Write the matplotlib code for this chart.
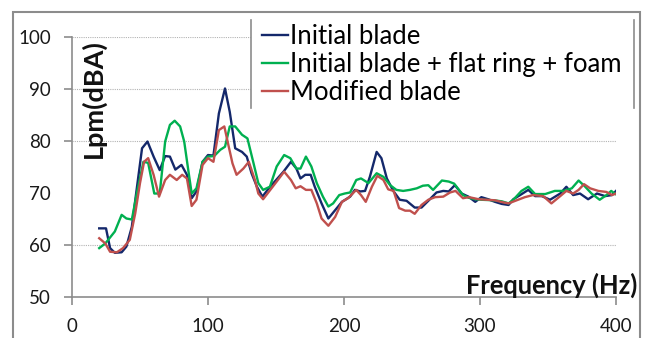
import matplotlib
matplotlib.use("Agg")
import matplotlib.pyplot as plt
from matplotlib.lines import Line2D
from matplotlib.patches import Rectangle

plt.rcParams["font.family"] = ["Lato", "DejaVu Sans"]

# values, frequency in Hz, level in dBA
freq_initial = [20, 25, 28, 31.5, 36.5, 40, 44, 47.5, 51.5, 55.5, 60, 64.5, 68.5, 72, 76,
                80.5, 84.5, 88, 91.5, 96, 100, 104, 108, 112.5, 116, 120, 125, 128.5, 132,
                136, 140, 145, 155.5, 161, 165, 168, 171.5, 175.5, 178.5, 183.5, 188.5,
                193.5, 198.5, 204.5, 208, 212, 215.5, 219, 224, 227.5, 231.5, 236.5, 241,
                246, 252, 257, 262, 268, 273, 277, 281.5, 286.5, 291.5, 296.5, 301, 306,
                311, 316, 321, 324.5, 329.5, 335.5, 340.5, 345.5, 351.5, 359, 363.5, 368.5,
                373.5, 379.5, 386, 392, 397, 400]
lpm_initial = [63.2, 63.2, 59.4, 58.5, 58.6, 59.7, 63.5, 70.6, 78.6, 79.9, 77.0, 74.4, 77.1,
               77.0, 74.5, 75.4, 73.5, 69.0, 70.3, 76.0, 77.3, 77.2, 85.3, 90.1, 85.6, 78.6,
               77.9, 77.0, 73.8, 71.2, 69.3, 71.0, 74.1, 76.0, 74.7, 72.8, 73.5, 73.5, 71.2,
               68.0, 65.1, 66.7, 68.3, 69.3, 70.6, 70.3, 70.4, 73.1, 77.9, 76.7, 72.8, 70.3,
               68.7, 68.5, 67.2, 67.2, 68.5, 70.1, 70.4, 70.3, 71.5, 69.9, 69.3, 68.3, 69.2,
               68.8, 68.3, 67.9, 67.7, 68.8, 69.6, 70.6, 69.4, 69.4, 68.7, 69.9, 71.2, 69.6,
               69.9, 68.8, 69.9, 69.4, 69.6, 70.4]

freq_ring = [20, 24.5, 31.5, 36.5, 40, 44, 47.5, 52.5, 56, 60.5, 64.5, 68.5, 72, 75.5, 79.5,
             82.5, 85.5, 88, 91.5, 96, 100, 104.5, 109, 112.5, 116, 120, 125, 129, 133.5,
             137, 140.5, 145.5, 150.5, 156, 160.5, 165, 168, 172, 176, 180, 184.5, 188.5,
             192, 196.5, 200.5, 204.5, 209, 212.5, 218, 224, 229, 234, 238.5, 243.5, 248.5,
             253.5, 258, 262, 265.5, 272, 277, 281, 287.5, 291.5, 296.5, 301, 310, 316, 321,
             324.5, 330.5, 335.5, 340.5, 348, 355, 361.5, 367.5, 372.5, 377, 382, 388, 393,
             396.5, 399.5]
lpm_ring = [59.4, 60.3, 62.6, 65.8, 65.1, 64.9, 69.7, 76.0, 75.8, 69.9, 69.9, 79.9, 83.1,
            83.9, 82.8, 79.9, 74.4, 69.9, 70.9, 76.0, 77.0, 77.1, 78.3, 78.9, 82.8, 82.8,
            81.2, 80.5, 75.7, 71.9, 70.6, 71.2, 75.1, 77.3, 76.7, 74.7, 74.7, 77.0, 75.1,
            71.9, 69.3, 67.4, 68.0, 69.6, 69.9, 70.1, 72.5, 72.8, 71.9, 73.8, 73.1, 71.5,
            70.6, 70.4, 70.6, 70.9, 71.4, 71.5, 70.6, 72.4, 72.2, 71.8, 69.6, 69.1, 68.8,
            68.7, 68.6, 68.4, 68.0, 68.7, 70.4, 71.2, 69.8, 69.8, 70.4, 70.4, 70.9, 72.4,
            71.3, 69.9, 68.7, 69.6, 70.4, 69.8]

freq_modified = [20, 24.5, 28, 33, 37.5, 42.5, 46.5, 50, 53, 56, 60, 64, 68.5, 72, 77, 81,
                 84.5, 88, 91.5, 96, 100, 104, 108, 112, 115, 118, 121, 126, 130, 134.5, 137,
                 140.5, 145.5, 150.5, 156, 161, 164.5, 168, 172, 176, 180, 183.5, 188.5,
                 193.5, 198.5, 203, 209, 212.5, 216, 220.5, 224.5, 229, 232.5, 236.5, 240.5,
                 245, 248.5, 252, 257, 262, 267, 273, 278, 282, 287.5, 292, 299, 305, 311,
                 317, 321, 327, 333, 339, 346.5, 352.5, 359, 363.5, 368.5, 372.5, 376.5, 381,
                 387, 393, 397, 400]
lpm_modified = [61.3, 60.3, 58.7, 58.6, 59.4, 61.0, 66.1, 71.9, 76.0, 76.7, 73.5, 69.3, 72.5,
                73.5, 72.5, 73.5, 72.8, 67.5, 68.7, 75.4, 76.7, 76.0, 82.1, 82.8, 79.2, 75.7,
                73.5, 74.7, 76.0, 72.5, 69.9, 68.8, 70.5, 72.2, 74.1, 72.5, 70.9, 71.3, 70.6,
                70.6, 68.0, 65.1, 63.7, 65.4, 68.3, 69.0, 70.6, 69.6, 68.3, 71.2, 73.3, 72.5,
                70.7, 70.4, 67.1, 66.6, 66.6, 66.0, 67.7, 68.7, 69.2, 69.3, 70.1, 70.4, 69.0,
                69.2, 68.8, 68.7, 68.6, 68.2, 68.0, 68.6, 69.2, 69.6, 69.4, 68.0, 69.4, 70.4,
                69.9, 70.6, 71.7, 70.9, 70.4, 70.2, 69.6, 69.9]

series_labels = ["Initial blade", "Initial blade + flat ring + foam", "Modified blade"]
series_colors = ["#14286b", "#00b050", "#c0504d"]
x_ticks = [0, 100, 200, 300, 400]
y_ticks = [50, 60, 70, 80, 90, 100]
grid_levels = [60, 80, 90, 100]

W, H = 645, 338
fig = plt.figure(figsize=(W / 100, H / 100), dpi=100)
ax = fig.add_axes([72 / W, 1 - 297 / H, 544 / W, 260 / H])

# outer chart border
fig.patches.append(Rectangle((13 / W, -0.1), 627 / W, 1.1 - 12 / H,
                             transform=fig.transFigure, fill=False,
                             edgecolor="#8c8c8c", linewidth=1.5, zorder=0))

for level in grid_levels:
    ax.axhline(level, color="#b3b3b3", linewidth=0.8, linestyle=(0, (1, 1)), zorder=1)

series = [(freq_initial, lpm_initial), (freq_ring, lpm_ring), (freq_modified, lpm_modified)]
for (f, v), color in zip(series, series_colors):
    ax.plot(f, v, color=color, linewidth=1.7, zorder=3)

ax.set_xlim(0, 400)
ax.set_ylim(50, 100)
ax.set_xticks(x_ticks)
ax.set_yticks(y_ticks)
for side in ["top", "right"]:
    ax.spines[side].set_visible(False)
for side in ["left", "bottom"]:
    ax.spines[side].set_color("#8c8c8c")
    ax.spines[side].set_linewidth(1.2)
ax.tick_params(axis="both", colors="#8c8c8c", length=6, width=1.2, labelsize=13.5,
               labelcolor="#1a1a1a")
ax.tick_params(axis="y", pad=9)
ax.tick_params(axis="x", pad=9)
ax.yaxis.get_major_ticks()[2].tick1line.set_visible(False)

# white legend area with its two side rules
fig.patches.append(Rectangle((251 / W, 1 - 108 / H), 383 / W, 88 / H,
                             transform=fig.transFigure, facecolor="white",
                             edgecolor="none", zorder=2))
for xp in (251, 634):
    fig.lines.append(Line2D([xp / W, xp / W], [1 - 20 / H, 1 - 108 / H],
                            transform=fig.transFigure, color="#8c8c8c",
                            linewidth=1.2, zorder=3))

handles = [Line2D([], [], color=c, linewidth=1.7) for c in series_colors]
leg = fig.legend(handles, series_labels, loc="upper left",
                 bbox_to_anchor=(262 / W, 1 - 24 / H), frameon=False,
                 fontsize=18.5, handlelength=1.0, handletextpad=0.08,
                 labelspacing=0.12, borderaxespad=0, borderpad=0)
leg.set_zorder(4)

fig.text(637 / W, 1 - 285 / H, "Frequency (Hz)", ha="right", va="center",
         fontsize=18.4, fontweight="bold", color="#111111")
fig.text(93 / W, 1 - 99 / H, "Lpm(dBA)", ha="center", va="center", rotation=90,
         fontsize=19.5, fontweight="bold", color="#111111")

fig.savefig("out.png", dpi=100)
